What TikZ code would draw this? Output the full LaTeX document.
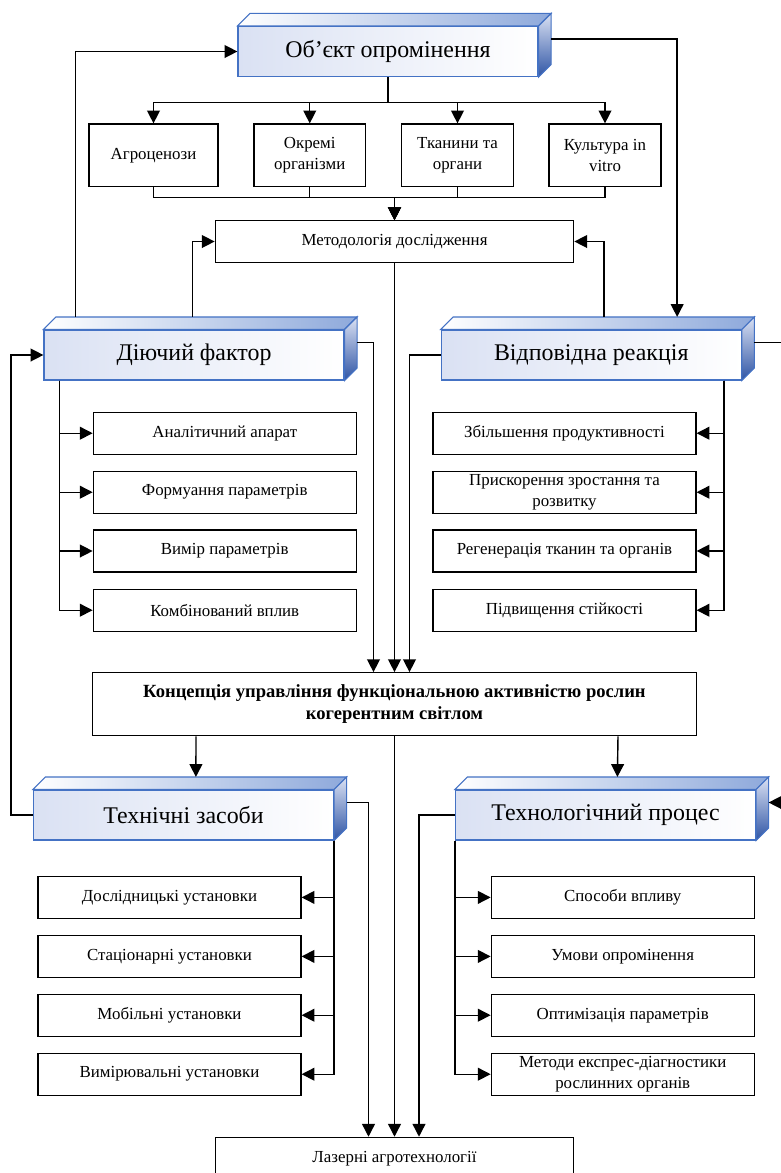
\documentclass[tikz,border=0pt]{standalone}
\usepackage{fontspec}
\setmainfont{Liberation Serif}
\usepackage{tikz}
\usetikzlibrary{arrows.meta}
\definecolor{headborder}{RGB}{68,114,196}
\definecolor{headfront}{RGB}{218,225,243}
\definecolor{headtop}{RGB}{142,169,219}
\definecolor{headside}{RGB}{47,85,165}
\tikzset{
    head/.style={draw=headborder, line width=0.8pt, left color=headfront, right color=white,
        minimum width=7.5cm, minimum height=1.25cm, inner sep=0pt,
        font=\fontsize{17}{20}\selectfont},
    headtopface/.style={draw=headborder, line width=0.8pt, left color=white, right color=headtop},
    headsideface/.style={draw=headborder, line width=0.8pt, top color=headfront, bottom color=headside},
    box/.style={draw, line width=0.8pt, minimum width=6.575cm, minimum height=1.05cm,
        align=center, inner sep=1pt, font=\fontsize{12}{14.5}\selectfont}
}

\begin{document}
\begin{tikzpicture}[x=0.025cm, y=-0.025cm, >={Triangle[length=3.2mm, width=3.2mm]}, line width=1pt]
    \useasboundingbox (0,0) rectangle (781,1173);

    % 3d headers
    \node[head] (obj) at (388,51.5) {Об’єкт опромінення};
    \node[head] (fac) at (194,355) {Діючий фактор};
    \node[head] (resp) at (591.25,355) {Відповідна реакція};
    \node[head] (tech) at (183.5,815) {Технічні засоби};
    \node[head] (proc) at (605.5,815) {Технологічний процес};
    \foreach \n in {obj,fac,resp,tech,proc} {
        \path[headtopface] (\n.north west) -- ++(12.5,-12.5)
            -- ([shift={(12.5,-12.5)}]\n.north east) -- (\n.north east) -- cycle;
        \path[headsideface] (\n.north east) -- ++(12.5,-12.5)
            -- ([shift={(12.5,-12.5)}]\n.south east) -- (\n.south east) -- cycle;
    }

    \node[box, minimum width=3.225cm, minimum height=1.5675cm] (agro) at (153.5,155.3) {Агроценози};
    \node[box, minimum width=2.7875cm, minimum height=1.5675cm] (orgs) at (309.75,155.3) {Окремі\\організми};
    \node[box, minimum width=2.8cm, minimum height=1.5675cm] (tiss) at (457.5,155.3) {Тканини та\\органи};
    \node[box, minimum width=2.8cm, minimum height=1.5675cm] (cult) at (605,155.3) {Культура in\\vitro};
    \node[box, minimum width=8.9625cm, minimum height=1.04cm] (meth) at (394.5,241.5) {Методологія дослідження};

    \node[box] (anal) at (224.75,433.2) {Аналітичний апарат};
    \node[box] (form) at (224.75,492.2) {Формуання параметрів};
    \node[box] (meas) at (224.75,551) {Вимір параметрів};
    \node[box] (comb) at (224.75,610.2) {Комбінований вплив};

    \node[box] (prod) at (564.5,433.2) {Збільшення продуктивності};
    \node[box] (grow) at (564.5,492.2) {Прискорення зростання та\\розвитку};
    \node[box] (regen) at (564.5,551) {Регенерація тканин та органів};
    \node[box] (resist) at (564.5,610.2) {Підвищення стійкості};

    \node[box, minimum width=15.075cm, minimum height=1.575cm, font=\fontsize{13.2}{15.6}\selectfont\bfseries]
        (conc) at (394.5,704.2) {Концепція управління функціональною активністю рослин\\когерентним світлом};

    \node[box] (rsch) at (169.5,897.4) {Дослідницькі установки};
    \node[box] (stat) at (169.5,956.4) {Стаціонарні установки};
    \node[box] (mob) at (169.5,1015.2) {Мобільні установки};
    \node[box] (instr) at (169.5,1074.2) {Вимірювальні установки};

    \node[box] (ways) at (622.75,897.4) {Способи впливу};
    \node[box] (cond) at (622.75,956.4) {Умови опромінення};
    \node[box] (optim) at (622.75,1015.2) {Оптимізація параметрів};
    \node[box] (diag) at (622.75,1074.2) {Методи експрес-діагностики\\рослинних органів};

    \node[box, minimum width=8.9625cm, minimum height=1.05cm] (laser) at (394.5,1158.3) {Лазерні агротехнології};

    % connectors
    \coordinate (bus1) at (388,102.7);
    \coordinate (bus2) at (394.5,197.3);
    \foreach \c in {agro,orgs,tiss,cult} {
        \draw[->] (obj.south) -- (bus1) -| (\c.north);
        \draw[->] (\c.south) |- (bus2) -- (meth.north);
    }
    \draw[->] ([shift={(32,-12.5)}]fac.north west) |- (obj.west);
    \draw[->] ([shift={(149,-12.5)}]fac.north west) |- (meth.west);
    \draw[->] ([shift={(12.5,-12.5)}]obj.east) -| ([shift={(236.5,-12.5)}]resp.north west);
    \draw[->] ([shift={(163.5,-12.5)}]resp.north west) |- (meth.east);

    \draw[->] ([shift={(12.5,-12.5)}]fac.east) -| ([shift={(-21,0)}]conc.north);
    \draw[->] (meth.south) -- (conc.north);
    \draw[->] (resp.west) -| ([shift={(15,0)}]conc.north);
    \foreach \c in {anal,form,meas,comb}
        \draw[->] ([shift={(16,0)}]fac.south west) |- (\c.west);
    \foreach \c in {prod,grow,regen,resist}
        \draw[->] ([shift={(-18,0)}]resp.south east) |- (\c.east);

    \draw[->] (tech.west) -- ++(-22,0) |- (fac.west);
    \draw[->] ([shift={(12.5,-12.5)}]resp.east) -- ++(40,0) |- ([shift={(12.5,-12.5)}]proc.east);

    \draw[->] ([shift={(-198.5,0)}]conc.south) -- ([shift={(163,-12.5)}]tech.north west);
    \draw[->] ([shift={(223.5,0)}]conc.south) -- ([shift={(162.5,-12.5)}]proc.north west);
    \draw[->] (conc.south) -- (laser.north);
    \draw[->] ([shift={(12.5,-12.5)}]tech.east) -| ([shift={(-26,0)}]laser.north);
    \draw[->] (proc.west) -| ([shift={(24.5,0)}]laser.north);
    \foreach \c in {rsch,stat,mob,instr}
        \draw[->] (tech.south east) |- (\c.east);
    \foreach \c in {ways,cond,optim,diag}
        \draw[->] (proc.south west) |- (\c.west);

    % \draw[help lines, step=50] (0,0) grid (781,1173);
\end{tikzpicture}
\end{document}
